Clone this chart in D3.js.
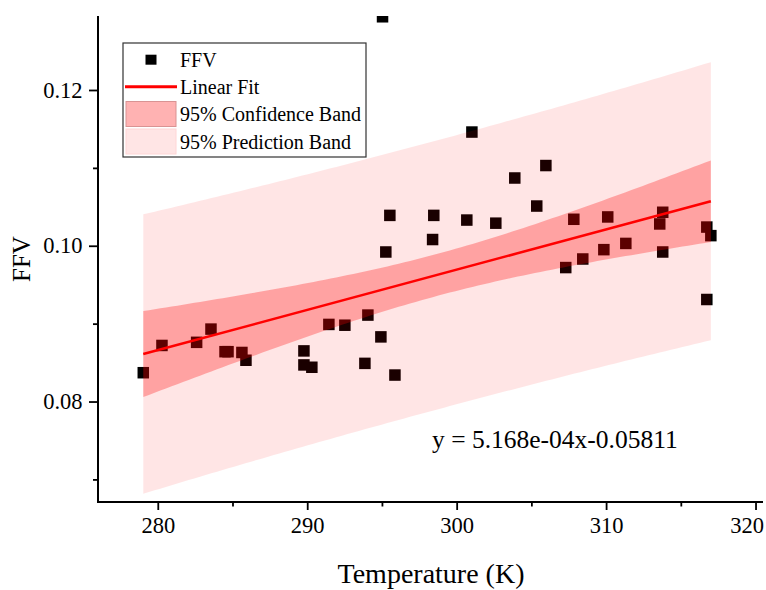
<!DOCTYPE html>
<html>
<head>
<meta charset="utf-8">
<script src="https://cdn.jsdelivr.net/npm/d3@7"></script>
<style>
  body { margin: 0; background: #fff; }
  text { font-family: "Liberation Serif", "DejaVu Serif", serif; fill: #000; }
</style>
</head>
<body>
<div id="scatter"></div>
<script>
// data
var temps = [279.03, 280.28, 282.60, 283.56, 284.50, 284.70, 285.63, 285.90, 289.78, 289.78,
             290.31, 291.45, 292.52, 293.86, 294.06, 294.93, 295.04, 295.26, 295.53, 295.87,
             298.39, 298.47, 300.68, 301.02, 302.62, 303.89, 305.36, 305.97, 307.30, 307.84,
             308.44, 309.85, 310.11, 311.32, 313.59, 313.79, 313.79, 316.74, 316.74, 317.01];
var ffv = [0.0837, 0.0872, 0.0876, 0.0893, 0.0864, 0.0864, 0.0863, 0.0853, 0.0865, 0.0847,
           0.0844, 0.0899, 0.0898, 0.0849, 0.0911, 0.0883, 0.1294, 0.0992, 0.1039, 0.0834,
           0.1008, 0.1039, 0.1033, 0.1146, 0.1029, 0.1087, 0.1051, 0.1103, 0.0972, 0.1034,
           0.0983, 0.0995, 0.1037, 0.1003, 0.1028, 0.1043, 0.0992, 0.1024, 0.0931, 0.1013];
var slope = 5.168e-4;
var intercept = -0.05811;
var xTicks = [280, 290, 300, 310, 320];
var xMinor = [285, 295, 305, 315];
var yTicks = [0.08, 0.10, 0.12];
var yMinor = [0.07, 0.09, 0.11];
var legendLabels = ["FFV", "Linear Fit", "95% Confidence Band", "95% Prediction Band"];
var equation = "y = 5.168e-04x-0.05811";

var width = 766, height = 590;
var margin = { top: 16, right: 3, bottom: 88, left: 98 };
var chartWidth = width - margin.left - margin.right;
var chartHeight = height - margin.top - margin.bottom;
var serif = "'Liberation Serif', 'DejaVu Serif', serif";

var svg = d3.select("#scatter").append("svg")
    .attr("width", width)
    .attr("height", height);

var chartGroup = svg.append("g")
    .attr("transform", `translate(${margin.left}, ${margin.top})`);

var xScale = d3.scaleLinear().domain([276, 320.5]).range([0, chartWidth]);
var yScale = d3.scaleLinear().domain([0.0671, 0.1295]).range([chartHeight, 0]);

// clip to plot area
svg.append("defs").append("clipPath").attr("id", "clip")
  .append("rect").attr("width", chartWidth).attr("height", chartHeight);

// regression stats for the bands
var data = temps.map((t, i) => ({ x: t, y: ffv[i] }));
var n = data.length;
var xMean = d3.mean(temps);
var sxx = d3.sum(temps, t => (t - xMean) * (t - xMean));
var sse = d3.sum(data, d => Math.pow(d.y - (slope * d.x + intercept), 2));
var s = Math.sqrt(sse / (n - 2));
var tval = 2.024; // t(0.975, 38)

var xMin = d3.min(temps), xMax = d3.max(temps);
var xs = d3.range(0, 101).map(i => xMin + (xMax - xMin) * i / 100);
function fit(x) { return slope * x + intercept; }
function confHalf(x) { return tval * s * Math.sqrt(1 / n + (x - xMean) * (x - xMean) / sxx); }
function predHalf(x) { return tval * s * Math.sqrt(1 + 1 / n + (x - xMean) * (x - xMean) / sxx); }

var plot = chartGroup.append("g").attr("clip-path", "url(#clip)");

// points under the bands, like Origin draws them
var sq = 11.5;
plot.selectAll("rect.pt")
    .data(data)
    .enter()
    .append("rect")
    .attr("class", "pt")
    .attr("x", d => xScale(d.x) - sq / 2)
    .attr("y", d => yScale(d.y) - sq / 2)
    .attr("width", sq)
    .attr("height", sq)
    .attr("fill", "#000");

var predArea = d3.area()
    .x(d => xScale(d))
    .y0(d => yScale(fit(d) - predHalf(d)))
    .y1(d => yScale(fit(d) + predHalf(d)));
var confArea = d3.area()
    .x(d => xScale(d))
    .y0(d => yScale(fit(d) - confHalf(d)))
    .y1(d => yScale(fit(d) + confHalf(d)));

plot.append("path").datum(xs).attr("d", predArea).attr("fill", "rgba(255,0,0,0.1)");
plot.append("path").datum(xs).attr("d", confArea).attr("fill", "rgba(255,0,0,0.29)");

plot.append("line")
    .attr("x1", xScale(xMin)).attr("y1", yScale(fit(xMin)))
    .attr("x2", xScale(xMax)).attr("y2", yScale(fit(xMax)))
    .attr("stroke", "#ff0000")
    .attr("stroke-width", 2.5);

// axes
var bottomAxis = d3.axisBottom(xScale).tickValues(xTicks).tickSize(8).tickPadding(7).tickFormat(d3.format("d"));
var bottomMinor = d3.axisBottom(xScale).tickValues(xMinor).tickSize(4.5).tickFormat("");
var leftAxis = d3.axisLeft(yScale).tickValues(yTicks).tickSize(9).tickPadding(6.5).tickFormat(d3.format(".2f"));
var leftMinor = d3.axisLeft(yScale).tickValues(yMinor).tickSize(5).tickFormat("");

function styleAxis(g) {
  g.attr("font-family", serif).attr("font-size", 22.5);
  g.select(".domain").remove();
  g.selectAll("line").attr("stroke", "#000").attr("stroke-width", 1.8);
}

var xAxisG = chartGroup.append("g").attr("transform", `translate(0, ${chartHeight})`).call(bottomAxis).call(styleAxis);
// keep the last label inside the page
xAxisG.selectAll(".tick text").filter(d => d === 320).attr("text-anchor", "end").attr("dx", 8);
chartGroup.append("g").attr("transform", `translate(0, ${chartHeight})`).call(bottomMinor).call(styleAxis);
chartGroup.append("g").call(leftAxis).call(styleAxis);
chartGroup.append("g").call(leftMinor).call(styleAxis);

// axis lines
chartGroup.append("path")
    .attr("d", `M0,0V${chartHeight}H${chartWidth}`)
    .attr("fill", "none")
    .attr("stroke", "#000")
    .attr("stroke-width", 2);

// axis titles
svg.append("text")
    .attr("x", 431)
    .attr("y", 583)
    .attr("text-anchor", "middle")
    .attr("font-family", serif)
    .attr("font-size", 28)
    .text("Temperature (K)");

svg.append("text")
    .attr("transform", "translate(30, 259) rotate(-90)")
    .attr("text-anchor", "middle")
    .attr("font-family", serif)
    .attr("font-size", 25)
    .text("FFV");

// equation
svg.append("text")
    .attr("x", 432)
    .attr("y", 448)
    .attr("font-family", serif)
    .attr("font-size", 25.5)
    .text(equation);

// legend
var legend = svg.append("g");
legend.append("rect")
    .attr("x", 123).attr("y", 43).attr("width", 243).attr("height", 114)
    .attr("fill", "#fff").attr("stroke", "#333").attr("stroke-width", 1.2);

var rowY = [59.7, 86.7, 114, 141.5];
legend.append("rect").attr("x", 145.5).attr("y", rowY[0] - 5).attr("width", 11).attr("height", 10).attr("fill", "#000");
legend.append("line").attr("x1", 125).attr("x2", 177).attr("y1", rowY[1]).attr("y2", rowY[1])
    .attr("stroke", "#ff0000").attr("stroke-width", 3);
legend.append("rect").attr("x", 126).attr("y", rowY[2] - 12.5).attr("width", 50).attr("height", 25)
    .attr("fill", "rgba(255,0,0,0.3)").attr("stroke", "#d99393").attr("stroke-width", 1);
legend.append("rect").attr("x", 126).attr("y", rowY[3] - 12.5).attr("width", 50).attr("height", 25)
    .attr("fill", "rgba(255,0,0,0.1)").attr("stroke", "#ffd6d6").attr("stroke-width", 1);

legend.selectAll("text.leg")
    .data(legendLabels)
    .enter()
    .append("text")
    .attr("class", "leg")
    .attr("x", 180)
    .attr("y", (d, i) => rowY[i] + 7)
    .attr("font-family", serif)
    .attr("font-size", 20)
    .text(d => d);
</script>
</body>
</html>
